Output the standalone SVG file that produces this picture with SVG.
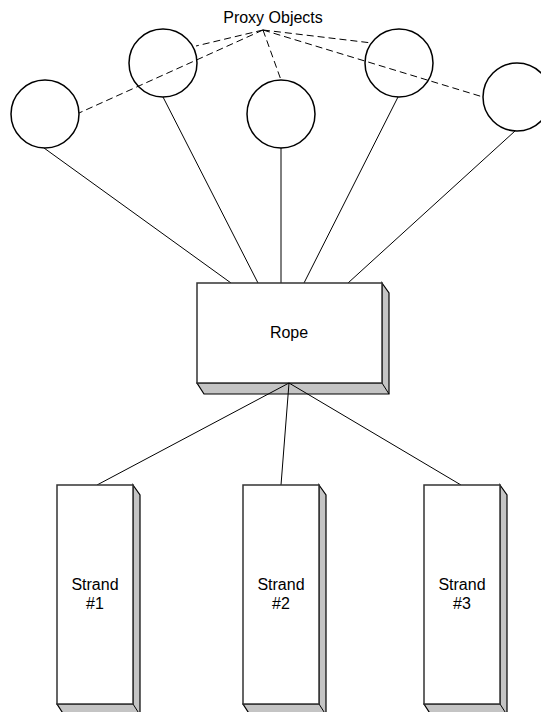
<svg xmlns="http://www.w3.org/2000/svg" width="541" height="712" viewBox="0 0 541 712">
  <style>
    .label { font-family: "Liberation Sans", Arial, sans-serif; font-size: 16px; fill: #000; text-anchor: middle; }
    .link { stroke: #000; stroke-width: 1; fill: none; }
    .dash { stroke: #000; stroke-width: 1; fill: none; stroke-dasharray: 7 4; }
    .proxy { fill: #fff; stroke: #000; stroke-width: 1.5; }
    .face { fill: #fff; stroke: #333; stroke-width: 1.5; }
    .shade { fill: #c4c4c4; stroke: #000; stroke-width: 1.2; stroke-linejoin: miter; }
  </style>

  <rect width="541" height="712" fill="#fff"/>

  <!-- solid links: proxies to rope, rope to strands -->
  <g id="connectors">
    <line class="link" x1="44" y1="148" x2="231" y2="283"/>
    <line class="link" x1="163" y1="97" x2="258" y2="283"/>
    <line class="link" x1="281" y1="148" x2="281" y2="283"/>
    <line class="link" x1="398" y1="97" x2="304" y2="283"/>
    <line class="link" x1="515" y1="131" x2="348" y2="283"/>
  </g>

  <!-- proxy objects -->
  <g id="proxy1"><circle class="proxy" cx="45" cy="114" r="34"/></g>
  <g id="proxy2"><circle class="proxy" cx="163" cy="63" r="34"/></g>
  <g id="proxy3"><circle class="proxy" cx="281" cy="114" r="34"/></g>
  <g id="proxy4"><circle class="proxy" cx="399" cy="63" r="34"/></g>
  <g id="proxy5"><circle class="proxy" cx="517" cy="97" r="34"/></g>

  <!-- dashed callout lines from the title -->
  <g id="callouts">
    <line class="dash" x1="263" y1="30" x2="79" y2="113"/>
    <line class="dash" x1="263" y1="30" x2="196" y2="46"/>
    <line class="dash" x1="263" y1="30" x2="281" y2="80"/>
    <line class="dash" x1="263" y1="30" x2="372" y2="43"/>
    <line class="dash" x1="263" y1="30" x2="483" y2="97"/>
  </g>
  <g id="title"><text class="label" x="273" y="23">Proxy Objects</text></g>

  <!-- rope block -->
  <g id="rope">
    <polygon class="shade" points="382,283 389,293 389,394 204,394 197,383 382,383"/>
    <line stroke="#000" stroke-width="1" x1="382" y1="383" x2="389" y2="394"/>
    <rect class="face" x="197" y="283" width="185" height="100"/>
    <text class="label" x="289" y="338">Rope</text>
  </g>

  <g id="rope-links">
    <line class="link" x1="289" y1="383" x2="97" y2="485"/>
    <line class="link" x1="289" y1="383" x2="281" y2="485"/>
    <line class="link" x1="289" y1="383" x2="461" y2="485"/>
  </g>

  <!-- strands -->
  <g id="strand1">
    <polygon class="shade" points="133,485 140,495 140,715 64,715 57,704 133,704"/>
    <line stroke="#000" stroke-width="1" x1="133" y1="704" x2="140" y2="715"/>
    <rect class="face" x="57" y="485" width="76" height="219"/>
    <text class="label" x="95" y="590">Strand</text>
    <text class="label" x="95" y="609">#1</text>
  </g>
  <g id="strand2">
    <polygon class="shade" points="319,485 326,495 326,715 250,715 243,704 319,704"/>
    <line stroke="#000" stroke-width="1" x1="319" y1="704" x2="326" y2="715"/>
    <rect class="face" x="243" y="485" width="76" height="219"/>
    <text class="label" x="281" y="590">Strand</text>
    <text class="label" x="281" y="609">#2</text>
  </g>
  <g id="strand3">
    <polygon class="shade" points="500,485 507,495 507,715 431,715 424,704 500,704"/>
    <line stroke="#000" stroke-width="1" x1="500" y1="704" x2="507" y2="715"/>
    <rect class="face" x="424" y="485" width="76" height="219"/>
    <text class="label" x="462" y="590">Strand</text>
    <text class="label" x="462" y="609">#3</text>
  </g>
</svg>
